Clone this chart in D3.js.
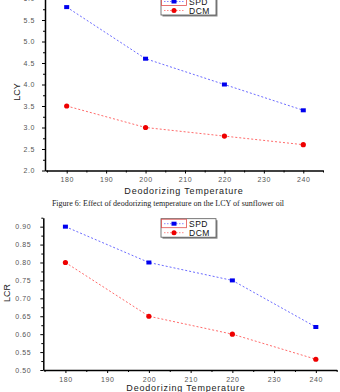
<!DOCTYPE html>
<html>
<head>
<meta charset="utf-8">
<script src="https://cdn.jsdelivr.net/npm/d3@7"></script>
<style>
  body { margin: 0; background: #fff; }
  svg { display: block; }
  .tick text { font-family: "Liberation Sans", Arial, sans-serif; font-size: 7px; fill: #555; letter-spacing: 0.6px; }
  .domain { stroke: #000; stroke-width: 1.5px; }
  .tick line { stroke: #000; stroke-width: 1px; }
</style>
</head>
<body>
<div id="chart"></div>
<script>
// values
const temps = [180, 200, 220, 240];
const lcySPD = [5.8, 4.6, 4.0, 3.4];
const lcyDCM = [3.5, 3.0, 2.8, 2.6];
const lcrSPD = [0.90, 0.80, 0.75, 0.62];
const lcrDCM = [0.80, 0.65, 0.60, 0.53];
const tempTicks = [180, 190, 200, 210, 220, 230, 240];
const tempMinor = [175, 185, 195, 205, 215, 225, 235, 245];
const lcyTicks = [2.0, 2.5, 3.0, 3.5, 4.0, 4.5, 5.0, 5.5, 6.0];
const lcyMinor = [2.25, 2.75, 3.25, 3.75, 4.25, 4.75, 5.25, 5.75];
const lcrTicks = [0.50, 0.55, 0.60, 0.65, 0.70, 0.75, 0.80, 0.85, 0.90];
const lcrMinor = [0.525, 0.575, 0.625, 0.675, 0.725, 0.775, 0.825, 0.875, 0.925];
const seriesNames = ['SPD', 'DCM'];

const svg = d3.select('#chart').append('svg')
  .attr('width', 340)
  .attr('height', 392);

function drawPanel(opt) {
  const g = svg.append('g');
  const x = d3.scaleLinear().domain(opt.xDomain).range(opt.xRange);
  const y = d3.scaleLinear().domain(opt.yDomain).range(opt.yRange);

  // minor ticks first
  g.append('g')
    .attr('transform', `translate(0,${opt.yRange[0]})`)
    .call(d3.axisBottom(x).tickValues(tempMinor).tickSize(2).tickFormat(''))
    .call(a => a.select('.domain').remove());
  g.append('g')
    .attr('transform', `translate(${opt.xRange[0]},0)`)
    .call(d3.axisLeft(y).tickValues(opt.yMinor).tickSize(2).tickFormat(''))
    .call(a => a.select('.domain').remove());

  // x axis
  g.append('g')
    .attr('transform', `translate(0,${opt.yRange[0]})`)
    .call(d3.axisBottom(x).tickValues(tempTicks).tickSize(3).tickSizeOuter(0).tickPadding(4));

  // y axis
  g.append('g')
    .attr('transform', `translate(${opt.xRange[0]},0)`)
    .call(d3.axisLeft(y).tickValues(opt.yTicks).tickSize(3).tickSizeOuter(0)
      .tickPadding(opt.yPad).tickFormat(d3.format(opt.fmt)));

  // axis titles
  g.append('text')
    .attr('x', opt.xTitleX)
    .attr('y', opt.xTitleY)
    .attr('text-anchor', 'middle')
    .style('font-family', '"Liberation Sans", Arial, sans-serif')
    .style('font-size', '9px')
    .style('letter-spacing', '0.8px')
    .style('fill', '#222')
    .text('Deodorizing Temperature');

  g.append('text')
    .attr('transform', `translate(${opt.yTitleX},${opt.yTitleY}) rotate(-90)`)
    .attr('text-anchor', 'middle')
    .style('font-family', '"Liberation Sans", Arial, sans-serif')
    .style('font-size', '9px')
    .style('fill', '#222')
    .text(opt.yTitle);

  // lines
  const line = d3.line().x((d, i) => x(temps[i])).y(d => y(d));
  g.append('path')
    .datum(opt.spd)
    .attr('d', line)
    .attr('fill', 'none')
    .attr('stroke', '#6b6bff')
    .attr('stroke-width', 1)
    .attr('stroke-dasharray', '2,2');
  g.append('path')
    .datum(opt.dcm)
    .attr('d', line)
    .attr('fill', 'none')
    .attr('stroke', '#ff6b6b')
    .attr('stroke-width', 1)
    .attr('stroke-dasharray', '2,2');

  // markers
  g.selectAll('.sq')
    .data(opt.spd)
    .join('rect')
    .attr('x', (d, i) => x(temps[i]) - 2.5)
    .attr('y', d => y(d) - 2)
    .attr('width', 5)
    .attr('height', 4)
    .attr('fill', '#0000ee');
  g.selectAll('.dot')
    .data(opt.dcm)
    .join('circle')
    .attr('cx', (d, i) => x(temps[i]))
    .attr('cy', d => y(d))
    .attr('r', 2.6)
    .attr('fill', '#ee0000');

  // legend
  const lg = g.append('g').attr('transform', `translate(${opt.legX},${opt.legY})`);
  lg.append('rect')
    .attr('x', 1.5).attr('y', 1.5)
    .attr('width', 55).attr('height', 18.5)
    .attr('fill', '#888');
  lg.append('rect')
    .attr('width', 55).attr('height', 18.5)
    .attr('fill', '#fff')
    .attr('stroke', '#555')
    .attr('stroke-width', 0.8);
  lg.append('rect')
    .attr('x', 0.5).attr('y', 0.5)
    .attr('width', 25).attr('height', 8.5)
    .attr('fill', 'none')
    .attr('stroke', '#e05050')
    .attr('stroke-width', 0.8);
  seriesNames.forEach((name, i) => {
    const cy = 5 + i * 9;
    lg.append('line')
      .attr('x1', 3).attr('x2', 23)
      .attr('y1', cy).attr('y2', cy)
      .attr('stroke', i === 0 ? '#6b6bff' : '#ff6b6b')
      .attr('stroke-width', 0.8)
      .attr('stroke-dasharray', '1.5,1.5');
    if (i === 0) {
      lg.append('rect').attr('x', 10.5).attr('y', cy - 2).attr('width', 5).attr('height', 4).attr('fill', '#0000ee');
    } else {
      lg.append('circle').attr('cx', 13).attr('cy', cy).attr('r', 2.5).attr('fill', '#ee0000');
    }
    lg.append('text')
      .attr('x', 28)
      .attr('y', cy + 3)
      .style('font-family', '"Liberation Sans", Arial, sans-serif')
      .style('font-size', '8.5px')
      .style('letter-spacing', '0.5px')
      .style('fill', '#111')
      .text(name);
  });
}

drawPanel({
  xDomain: [174.5, 245], xRange: [45, 323],
  yDomain: [2.0, 6.1], yRange: [170.5, -5.8],
  yTicks: lcyTicks, yMinor: lcyMinor, fmt: '.1f', yPad: 7,
  spd: lcySPD, dcm: lcyDCM,
  xTitleX: 184, xTitleY: 194, yTitle: 'LCY', yTitleX: 20, yTitleY: 92,
  legX: 161, legY: -3.5
});

svg.append('text')
  .attr('x', 168)
  .attr('y', 206)
  .attr('text-anchor', 'middle')
  .style('font-family', '"Liberation Serif", "Times New Roman", serif')
  .style('font-size', '8px')
  .style('fill', '#222')
  .text('Figure 6: Effect of deodorizing temperature on the LCY of sunflower oil');

drawPanel({
  xDomain: [174.7, 245], xRange: [43.3, 336.7],
  yDomain: [0.5, 0.925], yRange: [370, 217.7],
  yTicks: lcrTicks, yMinor: lcrMinor, fmt: '.2f', yPad: 9,
  spd: lcrSPD, dcm: lcrDCM,
  xTitleX: 186, xTitleY: 390.5, yTitle: 'LCR', yTitleX: 10, yTitleY: 293,
  legX: 161, legY: 218.7
});
</script>
</body>
</html>
